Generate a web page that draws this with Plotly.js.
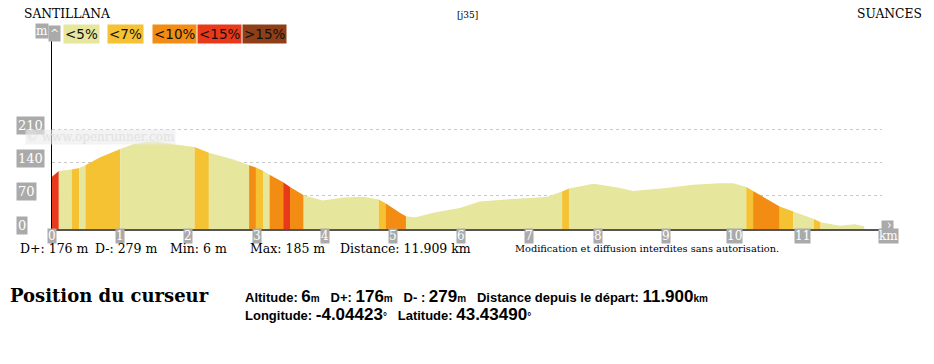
<!DOCTYPE html>
<html><head><meta charset="utf-8">
<script src="https://cdn.plot.ly/plotly-3.0.1.min.js"></script>
<style>body{margin:0;background:#fff}#c{width:934px;height:364px}</style>
</head><body><div id="c"></div>
<script>
// ---- data ----
const distKm = [0.00,0.10,0.29,0.40,0.49,0.70,1.00,1.19,1.39,1.53,1.78,2.09,2.30,2.66,2.89,2.99,3.10,3.19,3.39,3.49,3.69,3.97,4.27,4.56,4.79,4.89,5.10,5.19,5.32,5.59,5.98,6.27,6.66,7.25,7.48,7.58,7.94,8.04,8.33,8.52,9.01,9.40,9.79,9.99,10.18,10.28,10.67,10.87,11.17,11.27,11.55,11.77,11.909];
const altM   = [110,122,125,128,134,150,168,178,183,184,178,172,160,146,134,129,122,114,98,88,71,60,66,68,62,54,34,27,24,34,44,58,62,67,79,85,95,93,86,80,86,93,96,96,88,80,47,37,21,14,7,10,6];
// grade class of each interval between consecutive points (0:<5%,1:<7%,2:<10%,3:<15%,4:>15%)
const gradeClass = [3,0,1,0,1,1,0,0,0,0,0,1,0,0,2,1,0,2,3,2,0,0,0,0,1,2,2,0,0,0,0,0,0,0,1,0,0,0,0,0,0,0,0,0,1,2,1,0,1,0,0,0];
const classLabels = ['<5%','<7%','<10%','<15%','>15%'];
const classColors = ['#e6e69c','#f4c232','#f28c12','#e8391a','#8f3f18'];
const xTickKm = [0,1,2,3,4,5,6,7,8,9,10,11];
const yTickM = [0,70,140,210];
const startName = 'SANTILLANA', endName = 'SUANCES', code = '[j35]';
const statsParts = ['D+: 176 m','D-: 279 m','Min: 6 m','Max: 185 m','Distance: 11.909 km'];

// ---- layout helpers (pixel -> paper) ----
const L=52, R=882, T=40, B=229;
const px = x => (x-L)/(R-L);
const py = y => (B-y)/(B-T);

// ---- traces ----
const traces = [];
let i = 0;
while (i < gradeClass.length) {
  let j = i;
  while (j+1 < gradeClass.length && gradeClass[j+1] === gradeClass[i]) j++;
  traces.push({
    x: distKm.slice(i, j+2), y: altM.slice(i, j+2),
    type:'scatter', mode:'none', fill:'tozeroy',
    fillcolor: classColors[gradeClass[i]], hoverinfo:'skip'
  });
  i = j+1;
}

const serif = 'DejaVu Serif';
const ann = [];
// titles
ann.push({text:startName, xref:'paper', yref:'paper', x:px(22), y:py(14), xanchor:'left', yanchor:'middle', showarrow:false, font:{family:serif,size:12.3,color:'#000'}});
ann.push({text:endName, xref:'paper', yref:'paper', x:px(924), y:py(14), xanchor:'right', yanchor:'middle', showarrow:false, font:{family:serif,size:12.3,color:'#000'}});
ann.push({text:code, xref:'paper', yref:'paper', x:px(467), y:py(15), xanchor:'center', yanchor:'middle', showarrow:false, font:{family:serif,size:9,color:'#000'}});
// legend
const legX = [63,107,152,197,242];
classLabels.forEach((t,k)=>{
  ann.push({text:t, xref:'paper', yref:'paper', x:px(legX[k]), y:py(34), xanchor:'left', yanchor:'middle', showarrow:false,
    bgcolor:classColors[k], borderpad:1, font:{family:'DejaVu Sans',size:13.5,color:'#111'}});
});
// axis unit boxes
ann.push({text:'m', xref:'paper', yref:'paper', x:px(41.5), y:py(31), xanchor:'center', yanchor:'middle', showarrow:false, bgcolor:'#aaaaaa', borderpad:0, font:{family:serif,size:12,color:'#fff'}});
ann.push({text:'^', xref:'paper', yref:'paper', x:px(54), y:py(33), xanchor:'center', yanchor:'middle', showarrow:false, bgcolor:'#aaaaaa', borderpad:1, font:{family:serif,size:11,color:'#fff'}});
ann.push({text:'km', xref:'paper', yref:'paper', x:px(888), y:py(236), xanchor:'center', yanchor:'middle', showarrow:false, bgcolor:'#aaaaaa', borderpad:0, font:{family:serif,size:12,color:'#fff'}});
ann.push({text:'^', xref:'paper', yref:'paper', x:px(888), y:py(225), xanchor:'center', yanchor:'middle', showarrow:false, bgcolor:'#aaaaaa', borderpad:0, textangle:90, font:{family:serif,size:10,color:'#fff'}});
// y tick labels
yTickM.forEach(v=>{
  ann.push({text:String(v), xref:'paper', yref:'y', x:px(16), y:v+8, xanchor:'left', yanchor:'middle', showarrow:false,
    bgcolor:'#aaaaaa', borderpad:1, font:{family:serif,size:13,color:'#fff'}});
});
// x tick labels
xTickKm.forEach(v=>{
  ann.push({text:String(v), xref:'x', yref:'paper', x:v, y:py(235.5), xanchor:'center', yanchor:'middle', showarrow:false,
    bgcolor:'#aaaaaa', borderpad:0, font:{family:serif,size:12,color:'#fff'}});
});
// watermark
ann.push({text:'© www.openrunner.com', xref:'paper', yref:'paper', x:px(25), y:py(137), xanchor:'left', yanchor:'middle', showarrow:false,
  bgcolor:'rgba(235,235,235,0.6)', borderpad:0, font:{family:serif,size:12,color:'#e2e2e2'}});
// stats line
const statsX = [18,93,168,248,338];
statsParts.forEach((t,k)=>{
  ann.push({text:t, xref:'paper', yref:'paper', x:px(statsX[k]), y:py(248.5), xanchor:'left', yanchor:'middle', showarrow:false, font:{family:serif,size:12.5,color:'#000'}});
});
ann.push({text:'Modification et diffusion interdites sans autorisation.', xref:'paper', yref:'paper', x:px(513), y:py(248.5), xanchor:'left', yanchor:'middle', showarrow:false, font:{family:serif,size:9.8,color:'#000'}});
// cursor block
ann.push({text:'<b>Position du curseur</b>', xref:'paper', yref:'paper', x:px(8), y:py(295), xanchor:'left', yanchor:'middle', showarrow:false, font:{family:serif,size:18,color:'#000'}});
const big = s => "<span style='font-size:17px'>"+s+"</span>";
const sm  = s => "<span style='font-size:10px'>"+s+"</span>";
const sp = '&nbsp;&nbsp;&nbsp;';
ann.push({text:'<b>Altitude: '+big('6')+sm('m')+sp+'D+: '+big('176')+sm('m')+sp+'D- : '+big('279')+sm('m')+sp+'Distance depuis le départ: '+big('11.900')+sm('km')+'</b>',
  xref:'paper', yref:'paper', x:px(243), y:py(296), xanchor:'left', yanchor:'middle', showarrow:false, font:{family:'Liberation Sans',size:13,color:'#000'}});
ann.push({text:'<b>Longitude: '+big('-4.04423')+sm('°')+sp+'Latitude: '+big('43.43490')+sm('°')+'</b>',
  xref:'paper', yref:'paper', x:px(243), y:py(314), xanchor:'left', yanchor:'middle', showarrow:false, font:{family:'Liberation Sans',size:13,color:'#000'}});

const layout = {
  width:934, height:364,
  margin:{l:L, r:934-R, t:T, b:364-B, pad:0},
  paper_bgcolor:'#fff', plot_bgcolor:'#fff',
  showlegend:false, hovermode:false,
  xaxis:{range:[0,12.17], showgrid:false, zeroline:false, showticklabels:false, ticks:'',
    showline:true, linecolor:'#555', linewidth:2, fixedrange:true},
  yaxis:{range:[0,397], tickvals:yTickM.slice(1), showticklabels:false, ticks:'', showgrid:true,
    gridcolor:'#c8c8c8', griddash:'dot', gridwidth:1, zeroline:false,
    showline:true, linecolor:'#000', linewidth:1, fixedrange:true},
  annotations: ann
};
Plotly.newPlot('c', traces, layout, {staticPlot:true, displayModeBar:false});
</script>
</body></html>
